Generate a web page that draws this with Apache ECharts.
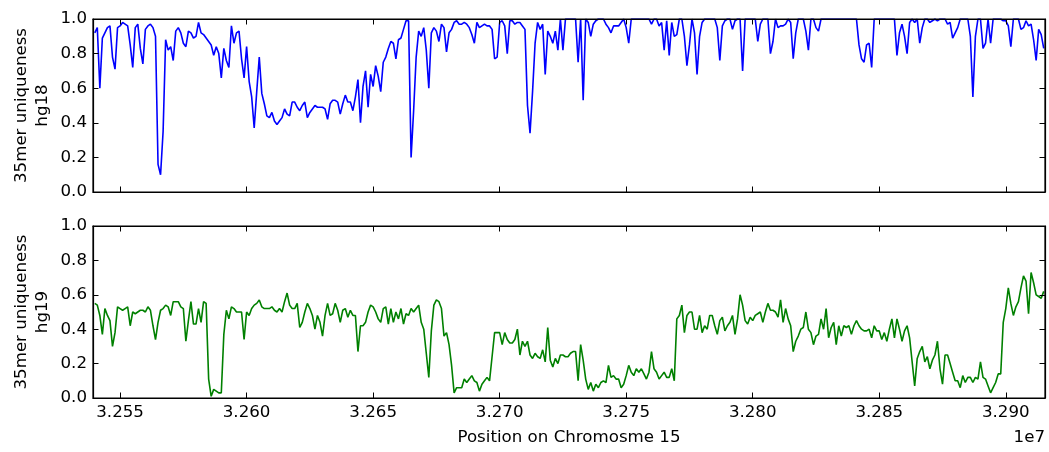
<!DOCTYPE html>
<html>
<head>
<meta charset="utf-8">
<script src="https://cdn.jsdelivr.net/npm/echarts@6/dist/echarts.min.js"></script>
<style>
html,body{margin:0;padding:0;background:#fff;}
#chart{width:1049px;height:452px;}
</style>
</head>
<body>
<div id="chart"></div>
<script>
// Positions (kb on chromosome 15)
const positionsKb = [
32540,32541,32542,32543,32544,32545,32546,32547,32548,32549,32550,32551,32552,32553,32554,32555,32556,32557,32558,32559,
32560,32561,32562,32563,32564,32565,32566,32567,32568,32569,32570,32571,32572,32573,32574,32575,32576,32577,32578,32579,
32580,32581,32582,32583,32584,32585,32586,32587,32588,32589,32590,32591,32592,32593,32594,32595,32596,32597,32598,32599,
32600,32601,32602,32603,32604,32605,32606,32607,32608,32609,32610,32611,32612,32613,32614,32615,32616,32617,32618,32619,
32620,32621,32622,32623,32624,32625,32626,32627,32628,32629,32630,32631,32632,32633,32634,32635,32636,32637,32638,32639,
32640,32641,32642,32643,32644,32645,32646,32647,32648,32649,32650,32651,32652,32653,32654,32655,32656,32657,32658,32659,
32660,32661,32662,32663,32664,32665,32666,32667,32668,32669,32670,32671,32672,32673,32674,32675,32676,32677,32678,32679,
32680,32681,32682,32683,32684,32685,32686,32687,32688,32689,32690,32691,32692,32693,32694,32695,32696,32697,32698,32699,
32700,32701,32702,32703,32704,32705,32706,32707,32708,32709,32710,32711,32712,32713,32714,32715,32716,32717,32718,32719,
32720,32721,32722,32723,32724,32725,32726,32727,32728,32729,32730,32731,32732,32733,32734,32735,32736,32737,32738,32739,
32740,32741,32742,32743,32744,32745,32746,32747,32748,32749,32750,32751,32752,32753,32754,32755,32756,32757,32758,32759,
32760,32761,32762,32763,32764,32765,32766,32767,32768,32769,32770,32771,32772,32773,32774,32775,32776,32777,32778,32779,
32780,32781,32782,32783,32784,32785,32786,32787,32788,32789,32790,32791,32792,32793,32794,32795,32796,32797,32798,32799,
32800,32801,32802,32803,32804,32805,32806,32807,32808,32809,32810,32811,32812,32813,32814,32815,32816,32817,32818,32819,
32820,32821,32822,32823,32824,32825,32826,32827,32828,32829,32830,32831,32832,32833,32834,32835,32836,32837,32838,32839,
32840,32841,32842,32843,32844,32845,32846,32847,32848,32849,32850,32851,32852,32853,32854,32855,32856,32857,32858,32859,
32860,32861,32862,32863,32864,32865,32866,32867,32868,32869,32870,32871,32872,32873,32874,32875,32876,32877,32878,32879,
32880,32881,32882,32883,32884,32885,32886,32887,32888,32889,32890,32891,32892,32893,32894,32895,32896,32897,32898,32899,
32900,32901,32902,32903,32904,32905,32906,32907,32908,32909,32910,32911,32912,32913,32914,32915
];

// 35mer uniqueness, hg18
const hg18 = [
0.92,0.95,0.60,0.89,0.92,0.95,0.96,0.78,0.71,0.95,
0.96,0.98,0.97,0.96,0.85,0.72,0.95,0.97,0.83,0.74,
0.94,0.96,0.97,0.95,0.90,0.16,0.10,0.35,0.88,0.82,
0.84,0.76,0.93,0.95,0.92,0.86,0.84,0.93,0.92,0.89,
0.90,0.98,0.92,0.91,0.89,0.87,0.85,0.79,0.84,0.80,
0.66,0.83,0.76,0.72,0.96,0.86,0.92,0.93,0.77,0.66,
0.84,0.64,0.55,0.37,0.58,0.78,0.57,0.51,0.44,0.43,
0.46,0.41,0.39,0.41,0.43,0.48,0.45,0.44,0.52,0.52,
0.49,0.47,0.50,0.52,0.43,0.46,0.48,0.50,0.49,0.49,
0.49,0.48,0.42,0.51,0.53,0.53,0.52,0.45,0.51,0.56,
0.52,0.52,0.47,0.55,0.65,0.40,0.61,0.70,0.49,0.68,
0.61,0.73,0.67,0.58,0.75,0.78,0.83,0.87,0.86,0.77,
0.88,0.89,0.94,0.99,0.99,0.20,0.47,0.78,0.93,0.90,
0.95,0.82,0.60,0.92,0.95,0.93,0.87,0.97,0.95,0.81,
0.92,0.94,0.98,0.99,0.97,0.97,0.98,0.97,0.95,0.91,
0.86,0.98,0.95,0.96,0.97,0.96,0.96,0.94,0.77,0.78,
0.98,0.99,0.96,0.80,0.99,0.99,0.97,0.98,0.98,0.96,
0.94,0.50,0.34,0.58,0.86,0.98,0.94,0.97,0.68,0.93,
0.90,0.86,0.93,0.82,1.00,0.82,1.00,1.00,1.00,1.00,
1.00,0.75,1.00,0.53,1.00,0.98,0.90,0.97,0.99,1.00,
1.00,1.00,0.97,0.95,0.92,0.96,0.96,0.96,0.98,1.00,
0.95,0.86,1.00,1.00,1.00,1.00,1.00,1.00,1.00,1.00,
0.97,1.00,1.00,0.96,0.98,0.82,0.99,0.79,0.98,0.90,
0.91,1.00,1.00,0.90,0.73,0.85,1.00,0.92,0.68,0.90,
0.98,1.00,1.00,1.00,1.00,1.00,0.95,0.76,0.96,0.99,
1.00,1.00,0.94,0.99,1.00,1.00,0.70,1.00,1.00,1.00,
1.00,1.00,0.87,0.97,1.00,1.00,1.00,0.80,0.87,1.00,
0.95,0.96,0.96,0.97,1.00,0.98,0.77,0.92,1.00,1.00,
1.00,0.93,0.82,1.00,1.00,0.95,0.93,1.00,1.00,1.00,
1.00,1.00,1.00,1.00,1.00,1.00,1.00,1.00,1.00,1.00,
1.00,1.00,0.85,0.77,0.75,0.85,0.86,0.72,1.00,1.00,
1.00,1.00,1.00,1.00,1.00,1.00,1.00,0.79,0.92,0.97,
0.90,0.80,0.98,1.00,0.98,1.00,0.86,0.95,1.00,1.00,
0.98,0.99,1.00,0.99,1.00,1.00,1.00,0.97,0.98,0.89,
0.92,0.95,1.00,1.00,1.00,1.00,0.90,0.55,0.90,1.00,
1.00,0.83,0.86,1.00,0.86,1.00,1.00,1.00,1.00,0.99,
0.99,0.96,0.84,1.00,1.00,1.00,0.94,0.95,0.99,0.96,
0.97,0.88,0.76,0.94,0.91,0.83
];

// 35mer uniqueness, hg19
const hg19 = [
0.55,0.54,0.48,0.37,0.52,0.48,0.45,0.30,0.38,0.53,
0.52,0.51,0.52,0.53,0.42,0.50,0.49,0.50,0.51,0.51,
0.50,0.53,0.51,0.42,0.34,0.44,0.51,0.52,0.54,0.53,
0.48,0.56,0.56,0.56,0.53,0.52,0.33,0.45,0.56,0.43,
0.43,0.52,0.44,0.56,0.55,0.11,0.01,0.05,0.04,0.03,
0.03,0.37,0.51,0.46,0.53,0.52,0.50,0.50,0.50,0.34,
0.50,0.48,0.52,0.54,0.55,0.57,0.53,0.52,0.52,0.52,
0.53,0.51,0.50,0.52,0.50,0.56,0.61,0.54,0.52,0.52,
0.55,0.41,0.44,0.50,0.55,0.52,0.48,0.40,0.48,0.44,
0.36,0.48,0.55,0.48,0.49,0.55,0.51,0.44,0.51,0.52,
0.47,0.51,0.48,0.48,0.27,0.42,0.42,0.44,0.50,0.54,
0.53,0.50,0.46,0.44,0.52,0.53,0.43,0.52,0.44,0.50,
0.46,0.52,0.43,0.49,0.48,0.52,0.50,0.52,0.54,0.44,
0.40,0.26,0.12,0.39,0.54,0.57,0.56,0.52,0.36,0.38,
0.31,0.19,0.03,0.06,0.06,0.06,0.11,0.09,0.11,0.13,
0.10,0.09,0.04,0.08,0.10,0.12,0.10,0.24,0.38,0.38,
0.38,0.31,0.38,0.34,0.32,0.32,0.34,0.40,0.25,0.33,
0.30,0.33,0.25,0.23,0.26,0.24,0.23,0.28,0.21,0.41,
0.22,0.18,0.23,0.20,0.25,0.25,0.24,0.24,0.26,0.27,
0.27,0.10,0.31,0.22,0.11,0.05,0.09,0.04,0.08,0.06,
0.09,0.10,0.09,0.19,0.12,0.13,0.11,0.11,0.06,0.08,
0.13,0.19,0.15,0.13,0.17,0.15,0.17,0.14,0.11,0.15,
0.27,0.17,0.15,0.11,0.13,0.15,0.12,0.12,0.17,0.10,
0.46,0.48,0.54,0.38,0.48,0.50,0.50,0.40,0.40,0.48,
0.38,0.42,0.40,0.48,0.48,0.42,0.37,0.45,0.47,0.39,
0.42,0.44,0.48,0.37,0.46,0.60,0.54,0.45,0.43,0.47,
0.45,0.48,0.49,0.50,0.44,0.50,0.55,0.51,0.51,0.50,
0.47,0.57,0.44,0.52,0.46,0.42,0.27,0.33,0.36,0.40,
0.41,0.50,0.40,0.38,0.31,0.36,0.37,0.46,0.40,0.52,
0.35,0.41,0.44,0.31,0.42,0.36,0.42,0.41,0.42,0.37,
0.42,0.45,0.42,0.40,0.39,0.39,0.40,0.35,0.42,0.39,
0.39,0.34,0.38,0.33,0.40,0.46,0.35,0.46,0.40,0.33,
0.39,0.42,0.35,0.21,0.07,0.23,0.27,0.30,0.21,0.24,
0.17,0.22,0.25,0.33,0.17,0.08,0.25,0.25,0.20,0.15,
0.10,0.10,0.06,0.13,0.09,0.12,0.12,0.09,0.12,0.11,
0.21,0.12,0.11,0.07,0.03,0.06,0.09,0.14,0.14,0.44,
0.52,0.64,0.55,0.48,0.53,0.56,0.64,0.71,0.68,0.49,
0.73,0.67,0.60,0.59,0.58,0.62
];

const xTicks = [32550000,32600000,32650000,32700000,32750000,32800000,32850000,32900000];
const yTicks = [0, 0.2, 0.4, 0.6, 0.8, 1.0];
const yLabels = ['35mer uniqueness', 'hg18', '35mer uniqueness', 'hg19'];
const xLabel = 'Position on Chromosme 15';
const offsetLabel = '1e7';

const X_MIN = 32539300, X_MAX = 32915500;
const FONT = 'DejaVu Sans';
const FS = 16.67;

const grids = [
  {left: 93, top: 19, width: 952, height: 173},
  {left: 93, top: 226, width: 952, height: 172}
];

const lineStyleAxis = {color: '#000', width: 1.2};
function xAxisFor(gi, pos, showLabels) {
  return {
    gridIndex: gi, type: 'value', position: pos, min: X_MIN, max: X_MAX,
    z: 10,
    axisLine: {show: true, onZero: false, lineStyle: lineStyleAxis},
    axisTick: {show: true, inside: true, length: 5.5, customValues: xTicks, lineStyle: {color: '#000', width: 1}},
    axisLabel: {show: showLabels, customValues: xTicks, margin: 6, color: '#000',
      fontFamily: FONT, fontSize: FS, formatter: v => (v / 1e7).toFixed(3)},
    splitLine: {show: false}
  };
}
function yAxisFor(gi, pos, showLabels) {
  return {
    gridIndex: gi, type: 'value', position: pos, min: yTicks[0], max: yTicks[yTicks.length - 1], interval: 0.2,
    z: 10,
    axisLine: {show: true, onZero: false, lineStyle: lineStyleAxis},
    axisTick: {show: true, inside: true, length: 5.5, lineStyle: {color: '#000', width: 1}},
    axisLabel: {show: showLabels, margin: 6, color: '#000', fontFamily: FONT, fontSize: FS,
      formatter: v => v.toFixed(1)},
    splitLine: {show: false}
  };
}

const d18 = positionsKb.map((p, i) => [p * 1000, hg18[i]]);
const d19 = positionsKb.map((p, i) => [p * 1000, hg19[i]]);

const chart = echarts.init(document.getElementById('chart'), null, {renderer: 'canvas'});
const textEl = (t, x, y, rot, align) => ({
  type: 'text', x: x, y: y, rotation: rot || 0, z: 20,
  style: {text: t, fill: '#000', font: FS + 'px "' + FONT + '"', textAlign: align || 'center', textVerticalAlign: 'middle'}
});
const frameEl = g => ({
  type: 'rect', z: 100, silent: true,
  shape: {x: g.left, y: g.top, width: g.width, height: g.height},
  style: {fill: null, stroke: '#000', lineWidth: 1.2}
});

chart.setOption({
  animation: false,
  backgroundColor: '#fff',
  grid: grids,
  xAxis: [xAxisFor(0, 'bottom', false), xAxisFor(0, 'top', false),
          xAxisFor(1, 'bottom', true), xAxisFor(1, 'top', false)],
  yAxis: [yAxisFor(0, 'left', true), yAxisFor(0, 'right', false),
          yAxisFor(1, 'left', true), yAxisFor(1, 'right', false)],
  series: [
    {type: 'line', xAxisIndex: 0, yAxisIndex: 0, data: d18, showSymbol: false, symbol: 'none',
     lineStyle: {color: '#0000ff', width: 1.6}, z: 2},
    {type: 'line', xAxisIndex: 2, yAxisIndex: 2, data: d19, showSymbol: false, symbol: 'none',
     lineStyle: {color: '#008000', width: 1.6}, z: 2}
  ],
  graphic: [
    frameEl(grids[0]),
    frameEl(grids[1]),
    textEl(yLabels[0], 22, 105.5, Math.PI / 2),
    textEl(yLabels[1], 43, 105.5, Math.PI / 2),
    textEl(yLabels[2], 22, 312, Math.PI / 2),
    textEl(yLabels[3], 43, 312, Math.PI / 2),
    textEl(xLabel, 569, 438, 0),
    textEl(offsetLabel, 1045, 438, 0, 'right')
  ]
});
</script>
</body>
</html>
